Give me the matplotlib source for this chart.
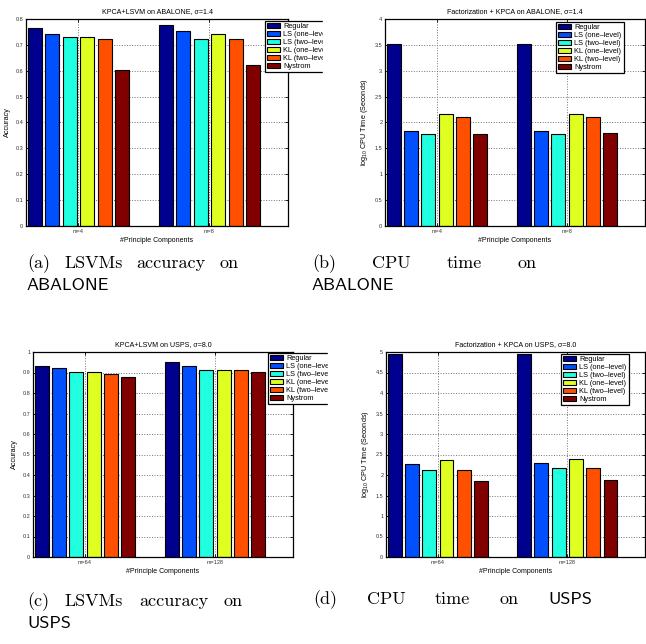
import matplotlib
matplotlib.use("Agg")
import matplotlib.pyplot as plt
from matplotlib.patches import Rectangle
import numpy as np

W, H = 646, 644

methods = ["Regular", "LS (one\u2013level)", "LS (two\u2013level)",
           "KL (one\u2013level)", "KL (two\u2013level)", "Nystrom"]
colors = ["#00008F", "#0050FF", "#20FFDF", "#DFFF20", "#FF5000", "#800000"]

groups_abalone = ["m=4", "m=8"]
groups_usps = ["m=64", "m=128"]

acc_abalone = [[0.766, 0.742, 0.732, 0.732, 0.721, 0.601],
               [0.776, 0.752, 0.721, 0.742, 0.721, 0.621]]
cpu_abalone = [[3.51, 1.84, 1.77, 2.17, 2.11, 1.78],
               [3.51, 1.84, 1.78, 2.17, 2.11, 1.80]]
acc_usps = [[0.932, 0.922, 0.901, 0.901, 0.891, 0.880],
            [0.952, 0.932, 0.911, 0.911, 0.911, 0.901]]
cpu_usps = [[4.95, 2.28, 2.11, 2.37, 2.13, 1.85],
            [4.96, 2.29, 2.18, 2.39, 2.18, 1.89]]

titles = ["KPCA+LSVM on ABALONE, \u03c3=1.4",
          "Factorization + KPCA on ABALONE, \u03c3=1.4",
          "KPCA+LSVM on USPS, \u03c3=8.0",
          "Factorization + KPCA on USPS, \u03c3=8.0"]
ylabels = ["Accuracy", r"log$_{10}$ CPU Time (Seconds)",
           "Accuracy", r"log$_{10}$ CPU Time (Seconds)"]
yticks_list = [np.round(np.arange(0, 0.81, 0.1), 1),
               np.arange(0, 4.01, 0.5),
               np.round(np.arange(0, 1.01, 0.1), 1),
               np.arange(0, 5.01, 0.5)]
ylims = [(0, 0.8), (0, 4), (0, 1), (0, 5)]

captions = [
    [("(a)", "s"), ("LSVMs", "s"), ("accuracy", "s"), ("on", "s")], [("ABALONE", "ss")],
    [("(b)", "s"), ("CPU", "s"), ("time", "s"), ("on", "s")], [("ABALONE", "ss")],
    [("(c)", "s"), ("LSVMs", "s"), ("accuracy", "s"), ("on", "s")], [("USPS", "ss")],
    [("(d)", "s"), ("CPU", "s"), ("time", "s"), ("on", "s"), ("USPS", "ss")], [],
]

plt.rcParams['font.family'] = ['Liberation Sans', 'DejaVu Sans']
plt.rcParams['mathtext.fontset'] = 'custom'
plt.rcParams['mathtext.rm'] = 'Liberation Sans'

fig = plt.figure(figsize=(W / 100, H / 100), dpi=100)

def rect(l, t, r, b):
    return [l / W, 1 - b / H, (r - l) / W, (b - t) / H]

axes_px = [(26, 19, 288, 226), (385, 19, 645, 226),
           (33, 352, 293, 557), (386, 352, 645, 557)]
legend_px = [(265, 21), (556, 22), (268, 353), (561, 354)]
datasets = [acc_abalone, cpu_abalone, acc_usps, cpu_usps]
group_labels = [groups_abalone, groups_abalone, groups_usps, groups_usps]

def fmt(v):
    s = ("%.1f" % v)
    if s.endswith(".0"):
        s = s[:-2]
    return s

slot = 0.8 / 6
bw = slot * 0.8
for i in range(4):
    ax = fig.add_axes(rect(*axes_px[i]))
    data = np.array(datasets[i])
    x = np.arange(1, data.shape[0] + 1)
    for k in range(6):
        ax.bar(x + (k - 2.5) * slot, data[:, k], width=bw, color=colors[k],
               edgecolor='black', linewidth=0.8, label=methods[k], zorder=2)
    ax.set_xlim(0.6, 2.6)
    ax.set_ylim(*ylims[i])
    ax.set_xticks(x)
    ax.set_xticklabels(group_labels[i])
    ax.set_yticks(yticks_list[i])
    ax.set_yticklabels([fmt(v) for v in yticks_list[i]])
    ax.set_axisbelow(True)
    ax.grid(True, linestyle=':', color='0.45', linewidth=0.7)
    ax.tick_params(direction='in', length=2.5, width=0.6, labelsize=4,
                   top=True, right=True, pad=2, labelcolor='0.2')
    for s in ax.spines.values():
        s.set_linewidth(0.9)
    ax.set_title(titles[i], fontsize=5.1, pad=4)
    ax.set_xlabel("#Principle Components", fontsize=5.0, labelpad=2)
    ax.set_ylabel(ylabels[i], fontsize=5.2, labelpad=3.5)
    lx, ly = legend_px[i]
    leg = ax.legend(loc='upper left', bbox_to_anchor=(lx / W, 1 - ly / H),
                    bbox_transform=fig.transFigure, borderaxespad=0,
                    fontsize=5.3, frameon=True, fancybox=False, framealpha=1,
                    edgecolor='black', handlelength=1.7, handleheight=0.7,
                    labelspacing=0.1, borderpad=0.3, handletextpad=0.5)
    leg.get_frame().set_linewidth(0.9)
    leg.set_zorder(5)

# clip legends spilling past panel edges
fig.add_artist(Rectangle((323 / W, 1 - 80 / H), 25 / W, 65 / H,
                         transform=fig.transFigure, color='white', zorder=10))
fig.add_artist(Rectangle((328 / W, 1 - 410 / H), 22 / W, 65 / H,
                         transform=fig.transFigure, color='white', zorder=10))

# captions: justified lines (start x, end x, baseline y)
cfs = 13
fams = {"s": "cmr10", "ss": "cmss10"}
line_specs = [(27, 239, 268), (27, None, 290),
              (312, 537, 268), (312, None, 290),
              (27, 243, 606), (27, None, 628),
              (313, 592, 604), (313, None, 626)]
fig.canvas.draw()
renderer = fig.canvas.get_renderer()
for words, (x0, x1, yb) in zip(captions, line_specs):
    if not words:
        continue
    texts = [fig.text(0, 1 - yb / H, w, fontsize=cfs, family=fams[f],
                      ha='left', va='baseline') for w, f in words]
    widths = [t.get_window_extent(renderer).width for t in texts]
    if x1 is None or len(texts) == 1:
        gap = 0
    else:
        gap = (x1 - x0 - sum(widths)) / (len(texts) - 1)
    xp = x0
    for t, wdt in zip(texts, widths):
        t.set_x(xp / W)
        xp += wdt + gap

fig.savefig("out.png", dpi=100)
